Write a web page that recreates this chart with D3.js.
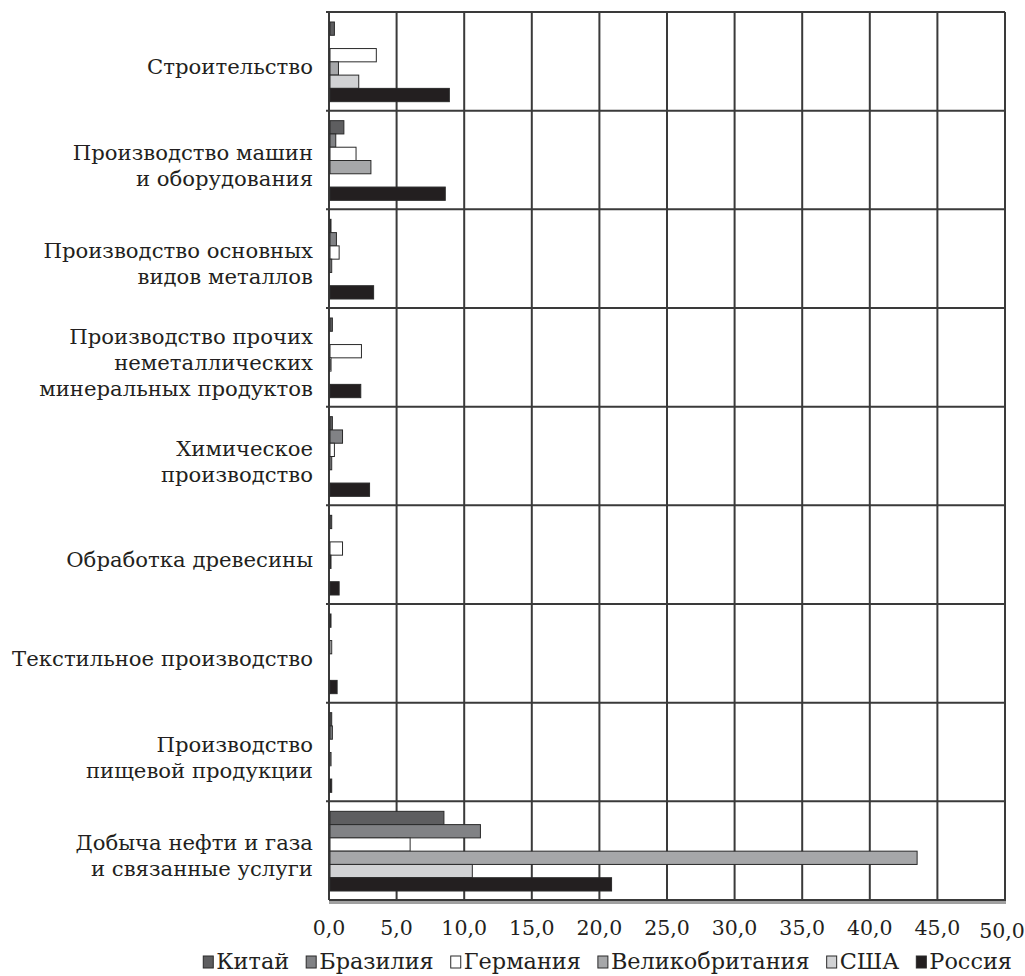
<!DOCTYPE html>
<html>
<head>
<meta charset="utf-8">
<script src="https://cdn.jsdelivr.net/npm/d3@7"></script>
<style>
  html, body { margin: 0; padding: 0; background: #fff; }
  svg { display: block; }
  text { font-family: "DejaVu Serif", "Liberation Serif", serif; fill: #231f20; }
</style>
</head>
<body>
<svg id="chart" width="1025" height="976"></svg>
<script>
// ---- data ----
const categories = [
  ["Строительство"],
  ["Производство машин", "и оборудования"],
  ["Производство основных", "видов металлов"],
  ["Производство прочих", "неметаллических", "минеральных продуктов"],
  ["Химическое", "производство"],
  ["Обработка древесины"],
  ["Текстильное производство"],
  ["Производство", "пищевой продукции"],
  ["Добыча нефти и газа", "и связанные услуги"]
];
const seriesNames = ["Китай", "Бразилия", "Германия", "Великобритания", "США", "Россия"];
const china   = [0.4, 1.1, 0.1, 0.25, 0.25, 0.2, 0.05, 0.2, 8.5];
const brazil  = [0.0, 0.5, 0.55, 0.0, 1.0, 0.0, 0.0, 0.25, 11.2];
const germany = [3.5, 2.0, 0.75, 2.4, 0.4, 1.0, 0.2, 0.0, 6.0];
const uk      = [0.7, 3.1, 0.2, 0.15, 0.2, 0.05, 0.0, 0.15, 43.5];
const usa     = [2.2, 0.0, 0.0, 0.0, 0.0, 0.0, 0.0, 0.0, 10.6];
const russia  = [8.9, 8.6, 3.3, 2.35, 3.0, 0.75, 0.6, 0.2, 20.9];
const seriesValues = [china, brazil, germany, uk, usa, russia];
const tickValues = [0, 5, 10, 15, 20, 25, 30, 35, 40, 45, 50];
const tickLabels = ["0,0", "5,0", "10,0", "15,0", "20,0", "25,0", "30,0", "35,0", "40,0", "45,0", "50,0"];
const colors = ["#5e5e60", "#818285", "#ffffff", "#a6a7a9", "#d1d2d4", "#231f20"];

// ---- layout ----
const svg = d3.select("#chart");
const pLeft = 329, pRight = 1005, pTop = 12, pBottom = 900;
const x = d3.scaleLinear().domain([0, 50]).range([pLeft, pRight]);
const catIdx = categories.map((d, i) => i);
const y = d3.scaleBand().domain(catIdx).range([pTop, pBottom]).padding(0);
const bw = y.bandwidth();
const ySub = d3.scaleBand().domain(d3.range(seriesNames.length)).range([10, bw - 9]).padding(0);

// gridlines vertical
svg.append("g").selectAll("line").data(tickValues).join("line")
  .attr("x1", d => x(d)).attr("x2", d => x(d))
  .attr("y1", pTop).attr("y2", pBottom)
  .attr("stroke", "#3a3a3a").attr("stroke-width", 2);

// horizontal category separators
svg.append("g").selectAll("line").data(d3.range(categories.length)).join("line")
  .attr("x1", pLeft - 3).attr("x2", pRight)
  .attr("y1", d => y(d)).attr("y2", d => y(d))
  .attr("stroke", "#3a3a3a").attr("stroke-width", 2);

// bars
const rows = [];
catIdx.forEach(ci => seriesValues.forEach((arr, si) => rows.push({ci, si, v: arr[ci]})));
svg.append("g").selectAll("rect").data(rows.filter(d => d.v > 0)).join("rect")
  .attr("x", x(0) + 1)
  .attr("y", d => y(d.ci) + ySub(d.si))
  .attr("width", d => Math.max(1, x(d.v) - x(0) - 1))
  .attr("height", ySub.bandwidth())
  .attr("fill", d => colors[d.si])
  .attr("stroke", "#2a2a2a").attr("stroke-width", 1);

// bottom axis line
svg.append("line").attr("x1", pLeft).attr("x2", pRight + 1).attr("y1", pBottom).attr("y2", pBottom)
  .attr("stroke", "#3a3a3a").attr("stroke-width", 2);
svg.append("line").attr("x1", pLeft).attr("x2", pRight + 1).attr("y1", pBottom + 2.5).attr("y2", pBottom + 2.5)
  .attr("stroke", "#a0a0a0").attr("stroke-width", 3);

// tick labels
svg.append("g").selectAll("text").data(tickValues).join("text")
  .attr("x", d => x(d) + (d === 50 ? -3 : 0))
  .attr("y", d => 935 + (d === 50 ? 3 : 0))
  .attr("text-anchor", "middle")
  .attr("font-size", 20.5)
  .text((d, i) => tickLabels[i]);

// category labels
const lh = 26;
const lab = svg.append("g");
categories.forEach((lines, ci) => {
  const cy = y(ci) + bw / 2 + 5;
  const t = lab.append("text").attr("text-anchor", "end").attr("font-size", 21.2);
  lines.forEach((ln, li) => {
    t.append("tspan").attr("x", 313)
      .attr("y", cy + (li - (lines.length - 1) / 2) * lh + 7.5)
      .text(ln);
  });
});

// legend
const lg = svg.append("g");
let cx = 0;
const gap = 17;
seriesNames.forEach((name, i) => {
  const g = lg.append("g");
  g.append("rect").attr("x", cx).attr("y", -13).attr("width", 10).attr("height", 12)
    .attr("fill", colors[i]).attr("stroke", "#2a2a2a").attr("stroke-width", 1);
  const t = g.append("text").attr("x", cx + 13).attr("y", 0).attr("font-size", 22.4).text(name);
  const w = t.node().getComputedTextLength();
  cx += 13 + w + gap;
});
const total = cx - gap;
lg.attr("transform", `translate(${1012 - total},969)`);
</script>
</body>
</html>
